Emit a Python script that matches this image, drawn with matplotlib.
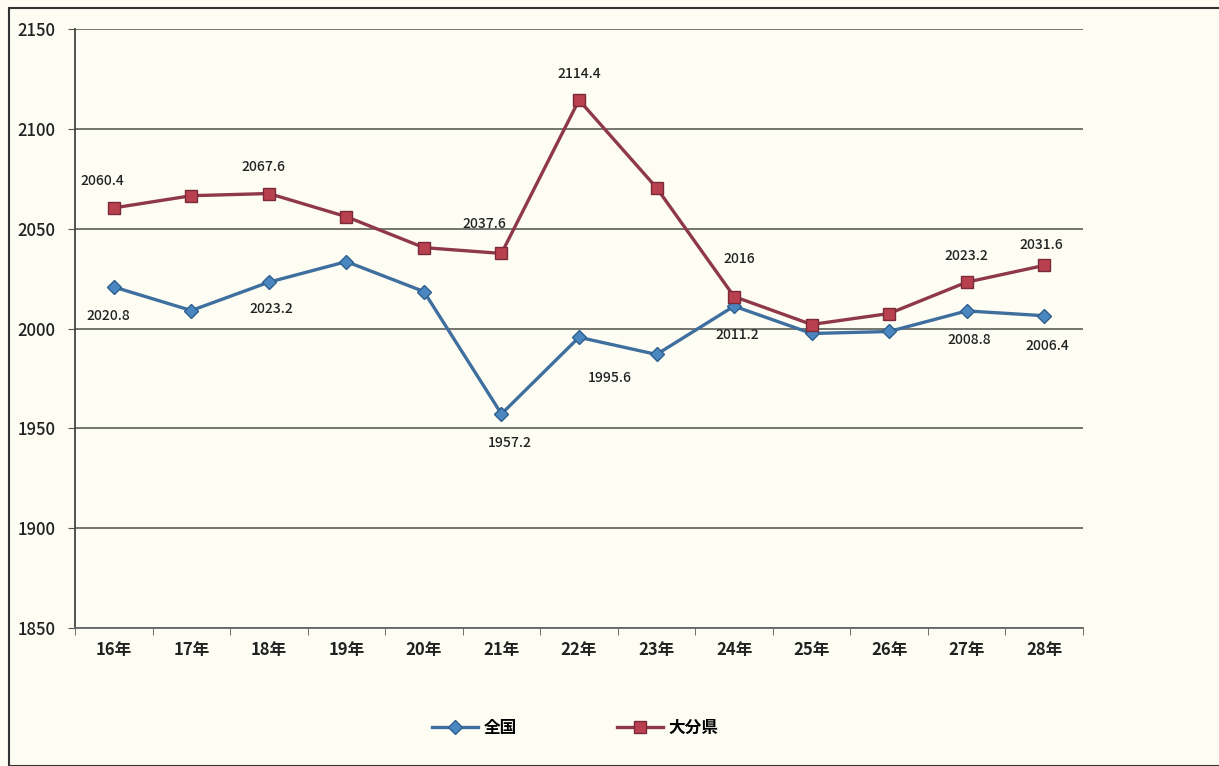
import matplotlib
matplotlib.use("Agg")
import matplotlib.pyplot as plt
from matplotlib.patches import Rectangle

plt.rcParams['font.family'] = ['Noto Sans CJK JP', 'DejaVu Sans']

years = ["16年", "17年", "18年", "19年", "20年", "21年", "22年",
         "23年", "24年", "25年", "26年", "27年", "28年"]
zenkoku = [2020.8, 2009.0, 2023.2, 2033.5, 2018.5, 1957.2, 1995.6,
           1987.0, 2011.2, 1997.5, 1998.5, 2008.8, 2006.4]
oita = [2060.4, 2066.5, 2067.6, 2056.0, 2040.5, 2037.6, 2114.4,
        2070.5, 2016.0, 2002.0, 2007.5, 2023.2, 2031.6]
zenkoku_labels = {0: "2020.8", 2: "2023.2", 5: "1957.2", 6: "1995.6",
                  8: "2011.2", 11: "2008.8", 12: "2006.4"}
oita_labels = {0: "2060.4", 2: "2067.6", 5: "2037.6", 6: "2114.4",
               8: "2016", 11: "2023.2", 12: "2031.6"}
yticks = [1850, 1900, 1950, 2000, 2050, 2100, 2150]

W, H = 1219, 766
fig = plt.figure(figsize=(W / 100, H / 100), dpi=100)
bg = "#fdfdf4"
fig.patch.set_facecolor(bg)

left, right, top, bottom = 75, 1083, 29, 628
ax = fig.add_axes([left / W, 1 - bottom / H, (right - left) / W, (bottom - top) / H])
ax.set_facecolor(bg)

x = list(range(len(years)))
blue_line = "#3e6f9e"
blue_mark = "#4a86c0"
red_line = "#8e3848"
red_mark = "#b9404f"

ax.plot(x, zenkoku, color=blue_line, lw=2.4, marker="D", ms=7,
        mfc=blue_mark, mec="#2f5f8f", mew=1, label="全国", zorder=3)
ax.plot(x, oita, color=red_line, lw=2.4, marker="s", ms=9,
        mfc=red_mark, mec="#7a2a38", mew=1, label="大分県", zorder=3)

ax.set_xlim(-0.5, len(years) - 0.5)
ax.set_ylim(1850, 2150)
ax.set_yticks(yticks)
ax.set_yticklabels([str(v) for v in yticks], fontsize=12, fontweight="medium",
                   color="#222222")
ax.set_xticks(x)
ax.set_xticklabels(years, fontsize=12, fontweight="bold", color="#222222")
ax.set_xticks([i - 0.5 for i in range(len(years) + 1)], minor=True)
ax.tick_params(axis="x", which="major", length=0, pad=9)
ax.tick_params(axis="x", which="minor", length=5, color="#555555", direction="out")
ax.tick_params(axis="y", length=5, color="#555555", pad=9)

ax.grid(axis="y", color="#6a6a66", lw=1.3)
ax.set_axisbelow(True)
for s in ["top", "right"]:
    ax.spines[s].set_visible(False)
ax.spines["left"].set_color("#444444")
ax.spines["bottom"].set_color("#666666")
ax.spines["left"].set_linewidth(1.3)
ax.spines["bottom"].set_linewidth(1.3)

oita_off = {0: (-8, 14), 2: (-4, 14), 5: (-12, 16), 6: (0, 14),
            8: (4, 22), 11: (0, 14), 12: (-2, 10)}
zen_off = {0: (-4, -16), 2: (2, -14), 5: (6, -16), 6: (22, -24),
           8: (2, -16), 11: (2, -16), 12: (2, -17)}
for i, t in oita_labels.items():
    ax.annotate(t, (x[i], oita[i]), xytext=oita_off[i], textcoords="offset points",
                ha="center", va="bottom", fontsize=10, fontweight="medium",
                color="#222222")
for i, t in zenkoku_labels.items():
    ax.annotate(t, (x[i], zenkoku[i]), xytext=zen_off[i], textcoords="offset points",
                ha="center", va="top", fontsize=10, fontweight="medium",
                color="#222222")

leg = fig.legend(loc="center", bbox_to_anchor=(575 / W, 1 - 728 / H), ncol=2,
                 frameon=False, fontsize=12, columnspacing=6, handlelength=2.8,
                 handletextpad=0.3)
for t in leg.get_texts():
    t.set_fontweight("bold")

fig.add_artist(Rectangle((9 / W, 0.0), 1.2, 1 - 8 / H, transform=fig.transFigure,
                         fill=False, ec="#333333", lw=1.5))

fig.savefig("out.png", dpi=100, facecolor=bg)
